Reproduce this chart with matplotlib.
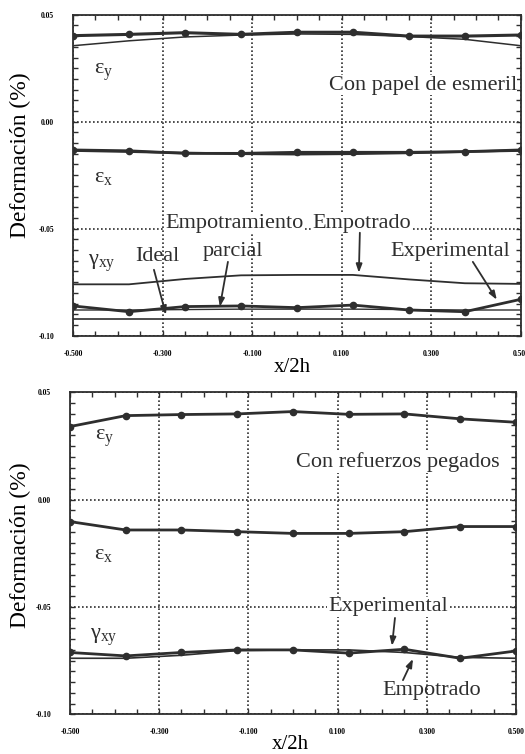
import numpy as np
import matplotlib
matplotlib.use("Agg")
import matplotlib.pyplot as plt
from matplotlib.ticker import MultipleLocator, FormatStrFormatter

plt.rcParams['font.family'] = ['Liberation Serif', 'DejaVu Serif']
plt.rcParams['mathtext.fontset'] = 'custom'
plt.rcParams['mathtext.rm'] = 'Liberation Serif'
plt.rcParams['mathtext.it'] = 'Liberation Serif'

INK = '#2e2e2e'

# positions along the plate, x/2h
x = [-0.5, -0.375, -0.25, -0.125, 0.0, 0.125, 0.25, 0.375, 0.5]

# --- panel 1: con papel de esmeril ---
ey_exp_1 = [0.0402, 0.0408, 0.0416, 0.0408, 0.0418, 0.0418, 0.0400, 0.0400, 0.0405]
ey_emp_1 = [0.0355, 0.0378, 0.0396, 0.0405, 0.0410, 0.0408, 0.0398, 0.0385, 0.0355]
ex_exp_1 = [-0.0132, -0.0136, -0.0148, -0.0148, -0.0143, -0.0143, -0.0143, -0.0140, -0.0132]
ex_emp_1 = [-0.0135, -0.0140, -0.0146, -0.0150, -0.0152, -0.0150, -0.0146, -0.0140, -0.0135]
gxy_exp_1 = [-0.0861, -0.0888, -0.0864, -0.0861, -0.0869, -0.0857, -0.0880, -0.0888, -0.0830]
gxy_emp_1 = [-0.0760, -0.0760, -0.0735, -0.0718, -0.0716, -0.0716, -0.0737, -0.0755, -0.0758]
gxy_par_1 = [-0.0880, -0.0880, -0.0878, -0.0876, -0.0876, -0.0876, -0.0878, -0.0880, -0.0880]
gxy_ide_1 = [-0.0923, -0.0923, -0.0923, -0.0923, -0.0923, -0.0923, -0.0923, -0.0923, -0.0923]

# --- panel 2: con refuerzos pegados ---
ey_exp_2 = [0.0341, 0.0392, 0.0397, 0.0400, 0.0411, 0.0398, 0.0400, 0.0377, 0.0361]
ex_exp_2 = [-0.0102, -0.0141, -0.0141, -0.0149, -0.0157, -0.0157, -0.0149, -0.0125, -0.0125]
gxy_exp_2 = [-0.0712, -0.0728, -0.0712, -0.0700, -0.0700, -0.0715, -0.0697, -0.0739, -0.0705]
gxy_emp_2 = [-0.0739, -0.0739, -0.0725, -0.0703, -0.0700, -0.0700, -0.0712, -0.0735, -0.0739]

xticks = [-0.5, -0.3, -0.1, 0.1, 0.3, 0.5]
yticks = [0.05, 0.0, -0.05, -0.10]


def style_axes(ax):
    ax.set_xlim(-0.5, 0.5)
    ax.set_ylim(-0.10, 0.05)
    ax.set_xticks(xticks)
    ax.set_yticks(yticks)
    ax.xaxis.set_minor_locator(MultipleLocator(0.05))
    ax.yaxis.set_minor_locator(MultipleLocator(0.005))
    ax.xaxis.set_major_formatter(FormatStrFormatter('%.3f'))
    ax.yaxis.set_major_formatter(FormatStrFormatter('%.2f'))
    ax.tick_params(which='both', direction='in', top=True, right=True,
                   length=3.5, width=1.0, color=INK)
    ax.tick_params(axis='x', which='major', pad=10, labelsize=5.5)
    ax.tick_params(axis='y', which='major', pad=13.5, labelsize=5.5)
    for lab in ax.get_xticklabels() + ax.get_yticklabels():
        lab.set_fontweight('bold')
    ax.grid(True, which='major', color=INK, linestyle=(0, (1, 1.4)), linewidth=1.2)
    for sp in ax.spines.values():
        sp.set_linewidth(1.3)
        sp.set_color(INK)
    ax.set_xlabel('x/2h', fontsize=15)
    ax.set_ylabel('Deformación (%)', fontsize=17)


def arrow(ax, start, end):
    ax.annotate('', xy=end, xytext=start,
                arrowprops=dict(arrowstyle='-|>,head_length=0.5,head_width=0.18',
                                color=INK, lw=1.3, shrinkA=0, shrinkB=0))


fig = plt.figure(figsize=(5.25, 7.54), dpi=100)
ax1 = fig.add_axes([0.139, 0.5548, 0.853, 0.4257])
ax2 = fig.add_axes([0.1333, 0.0527, 0.8495, 0.4268])

mk = dict(marker='o', markersize=4.5, markerfacecolor=INK, markeredgecolor=INK)

# panel 1
ax1.plot(x, ey_emp_1, color=INK, lw=1.1)
ax1.plot(x, ey_exp_1, color=INK, lw=2.2, **mk)
ax1.plot(x, ex_emp_1, color=INK, lw=1.8)
ax1.plot(x, ex_exp_1, color=INK, lw=2.0, **mk)
ax1.plot(x, gxy_emp_1, color=INK, lw=1.3)
ax1.plot(x, gxy_par_1, color=INK, lw=1.0)
ax1.plot(x, gxy_ide_1, color=INK, lw=1.2)
ax1.plot(x, gxy_exp_1, color=INK, lw=2.0, **mk)
style_axes(ax1)
ax1.yaxis.set_label_coords(-0.094, 0.563)
ax1.xaxis.set_label_coords(0.49, -0.068)

tk = dict(color=INK, fontsize=16)
wb = dict(facecolor='white', edgecolor='none', pad=0.5)
ax1.text(-0.431, 0.0230, r'$\mathrm{ε_y}$', ha='center', va='center', **tk)
ax1.text(-0.431, -0.0260, r'$\mathrm{ε_x}$', ha='center', va='center', **tk)
ax1.text(-0.436, -0.0660, r'$\mathrm{γ_{xy}}$', ha='center', va='center', **tk)
ax1.text(0.491, 0.0171, 'Con papel de esmeril', ha='right', va='center', bbox=wb, **tk)
ax1.text(-0.2946, -0.0498, 'Empotramiento', ha='left', va='baseline', bbox=wb, **tk)
ax1.text(0.0357, -0.0498, 'Empotrado', ha='left', va='baseline', bbox=wb, **tk)
ax1.text(0.4754, -0.0627, 'Experimental', ha='right', va='baseline', bbox=wb, **tk)
ax1.text(-0.2098, -0.0627, 'parcial', ha='left', va='baseline', **tk)
ax1.text(-0.3616, -0.0653, 'Ideal', ha='left', va='baseline', **tk)
arrow(ax1, (-0.3192, -0.0692), (-0.2924, -0.0902))
arrow(ax1, (-0.154, -0.0655), (-0.172, -0.0865))
arrow(ax1, (0.1406, -0.0519), (0.1384, -0.0706))
arrow(ax1, (0.3929, -0.0655), (0.4464, -0.0832))

# panel 2
ax2.plot(x, ey_exp_2, color=INK, lw=2.0, **mk)
ax2.plot(x, ex_exp_2, color=INK, lw=2.0, **mk)
ax2.plot(x, gxy_emp_2, color=INK, lw=1.2)
ax2.plot(x, gxy_exp_2, color=INK, lw=2.0, **mk)
style_axes(ax2)
ax2.yaxis.set_label_coords(-0.088, 0.526)
ax2.xaxis.set_label_coords(0.495, -0.064)

ax2.text(-0.4215, 0.0286, r'$\mathrm{ε_y}$', ha='center', va='center', **tk)
ax2.text(-0.4238, -0.0255, r'$\mathrm{ε_x}$', ha='center', va='center', **tk)
ax2.text(-0.4238, -0.0642, r'$\mathrm{γ_{xy}}$', ha='center', va='center', **tk)
ax2.text(0.464, 0.0174, 'Con refuerzos pegados', ha='right', va='center', bbox=wb, **tk)
ax2.text(0.0785, -0.0500, 'Experimental', ha='left', va='center', bbox=wb, **tk)
ax2.text(0.1996, -0.0910, 'Empotrado', ha='left', va='baseline', **tk)
arrow(ax2, (0.2287, -0.0551), (0.2220, -0.0681))
arrow(ax2, (0.2466, -0.0841), (0.2691, -0.0742))

fig.savefig('out.png', dpi=100)
